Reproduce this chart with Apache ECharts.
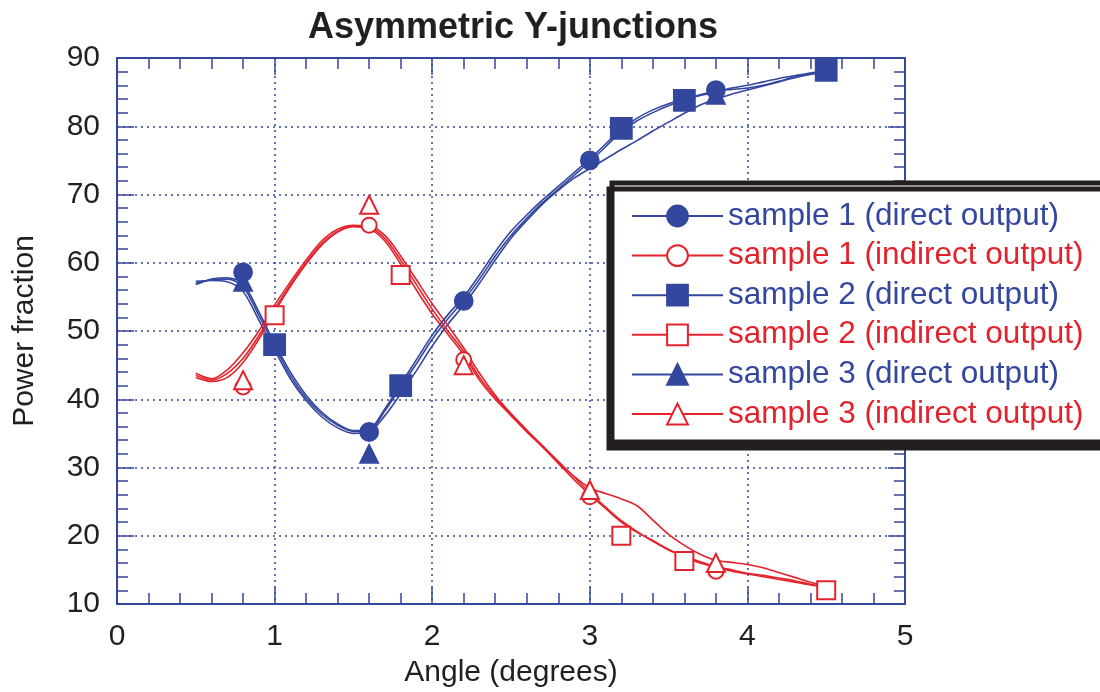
<!DOCTYPE html>
<html>
<head>
<meta charset="utf-8">
<script src="https://cdn.jsdelivr.net/npm/echarts@6/dist/echarts.min.js"></script>
<style>
  html, body { margin: 0; padding: 0; background: #fff; }
  #chart { width: 1100px; height: 692px; }
</style>
</head>
<body>
<div id="chart"></div>
<script>
// angles (degrees) for the measured curves
const angles = [0.5, 0.6, 0.7, 0.8, 0.9, 1.0, 1.1, 1.2, 1.3, 1.4,
                1.5, 1.6, 1.7, 1.8, 1.9, 2.0, 2.1, 2.2, 2.3, 2.4,
                2.5, 2.6, 2.7, 2.8, 2.9, 3.0, 3.1, 3.2, 3.3, 3.4,
                3.5, 3.6, 3.7, 3.8, 3.9, 4.0, 4.1, 4.2, 4.3, 4.4, 4.5];

// measured curves, direct output
const direct1 = [57.0, 57.5, 57.6, 56.5, 52.3, 47.8, 43.5, 40.2, 37.8, 36.2,
                 35.3, 35.4, 38.3, 41.8, 45.2, 48.8, 51.8, 54.5, 57.6, 61.0,
                 64.0, 66.5, 68.8, 70.8, 72.8, 74.8, 77.0, 79.2, 80.8, 82.0,
                 83.0, 83.8, 84.5, 85.0, 85.6, 86.0, 86.5, 87.0, 87.4, 87.8, 88.0];
const direct2 = [57.3, 57.4, 57.2, 55.8, 51.6, 47.2, 43.0, 39.8, 37.4, 35.8,
                 35.0, 35.2, 37.6, 40.8, 44.2, 47.8, 51.0, 53.8, 57.0, 60.4,
                 63.6, 66.2, 68.6, 70.6, 72.4, 73.8, 75.2, 76.6, 77.9, 79.3,
                 80.6, 81.9, 83.1, 84.0, 84.7, 85.3, 85.9, 86.5, 87.1, 87.6, 88.0];
const direct3 = [56.8, 57.6, 57.8, 56.9, 52.8, 48.2, 44.0, 40.6, 38.1, 36.4,
                 35.4, 35.6, 38.6, 42.2, 45.8, 49.4, 52.4, 55.0, 58.2, 61.6,
                 64.6, 67.0, 69.2, 71.2, 73.2, 75.2, 77.4, 79.6, 81.2, 82.4,
                 83.3, 84.0, 84.6, 85.2, 85.4, 85.6, 86.0, 86.6, 87.2, 87.7, 88.0];

// measured curves, indirect output
const indirect1 = [43.5, 42.8, 43.8, 46.0, 49.3, 53.2, 56.8, 60.0, 62.8, 64.6,
                   65.3, 65.0, 63.2, 59.8, 56.0, 52.5, 49.5, 46.5, 42.8, 40.0,
                   37.6, 35.2, 33.0, 30.6, 28.2, 26.0, 24.0, 22.0, 20.5, 19.3,
                   18.0, 17.0, 16.2, 15.5, 15.0, 14.5, 14.2, 13.8, 13.4, 12.9, 12.4];
const indirect2 = [43.2, 42.6, 43.2, 45.4, 48.8, 52.8, 56.5, 59.8, 62.6, 64.5,
                   65.4, 65.4, 64.0, 61.0, 57.5, 54.0, 50.8, 47.5, 43.8, 40.6,
                   37.9, 35.5, 33.2, 30.9, 28.6, 26.3, 24.2, 22.2, 20.6, 19.2,
                   17.9, 16.9, 16.0, 15.4, 14.8, 14.4, 14.0, 13.6, 13.2, 12.8, 12.5];
const indirect3 = [43.8, 43.0, 44.3, 46.8, 50.0, 53.8, 57.2, 60.4, 63.2, 64.9,
                   65.5, 65.2, 63.6, 60.4, 56.8, 53.2, 50.0, 47.0, 43.2, 40.3,
                   37.8, 35.4, 33.1, 30.8, 28.7, 27.0, 26.2, 25.4, 24.4, 22.3,
                   20.2, 18.6, 17.3, 16.4, 16.1, 15.8, 15.3, 14.6, 13.9, 13.2, 12.6];

// sparse markers: [angle, power fraction]
const marks1Direct = [[0.8, 58.6], [1.6, 35.2], [2.2, 54.4], [3.0, 75.0], [3.8, 85.3]];
const marks1Indirect = [[0.8, 41.8], [1.6, 65.5], [2.2, 45.8], [3.0, 25.7], [3.8, 14.8]];
const marks2Direct = [[1.0, 48.0], [1.8, 42.0], [3.2, 79.7], [3.6, 83.8], [4.5, 88.2]];
const marks2Indirect = [[1.0, 52.3], [1.8, 58.2], [3.2, 20.0], [3.6, 16.3], [4.5, 12.0]];
const marks3Direct = [[0.8, 57.2], [1.6, 32.0], [3.8, 84.6]];
const marks3Indirect = [[0.8, 42.8], [1.6, 68.5], [2.2, 45.0], [3.0, 26.7], [3.8, 16.0]];

const names = ['sample 1 (direct output)', 'sample 1 (indirect output)',
               'sample 2 (direct output)', 'sample 2 (indirect output)',
               'sample 3 (direct output)', 'sample 3 (indirect output)'];

const BLUE = '#34479e';
const RED = '#e3232c';
const INK = '#231f20';
const FONT = 'Liberation Sans, Arial, Helvetica, sans-serif';

function zip(ys) {
    return angles.map((a, i) => [a, ys[i]]);
}

const setup = [
    { curve: direct1, marks: marks1Direct, color: BLUE, symbol: 'circle', size: 18 },
    { curve: indirect1, marks: marks1Indirect, color: RED, symbol: 'emptyCircle', size: 15 },
    { curve: direct2, marks: marks2Direct, color: BLUE, symbol: 'rect', size: 21 },
    { curve: indirect2, marks: marks2Indirect, color: RED, symbol: 'emptyRect', size: 18 },
    { curve: direct3, marks: marks3Direct, color: BLUE, symbol: 'triangle', size: 18 },
    { curve: indirect3, marks: marks3Indirect, color: RED, symbol: 'emptyTriangle', size: 18 }
];

const series = [];
setup.forEach((s, i) => {
    series.push({
        name: names[i],
        type: 'line',
        data: zip(s.curve),
        smooth: 0.3,
        symbol: s.symbol,
        symbolSize: s.size,
        showSymbol: false,
        lineStyle: { color: s.color, width: 1.6 },
        itemStyle: { color: s.color, borderColor: s.color, borderWidth: 1.6 },
        z: 2
    });
    series.push({
        name: names[i],
        type: 'scatter',
        data: s.marks,
        symbol: s.symbol,
        symbolSize: s.size,
        itemStyle: { color: s.color, borderColor: s.color, borderWidth: 1.8, opacity: 1 },
        z: 3
    });
});

const tickFont = { fontFamily: FONT, fontSize: 30, color: INK };

function xAxisDef(pos, labels) {
    return {
        type: 'value', position: pos, min: 0, max: 5, interval: 1,
        axisLine: { show: true, onZero: false, lineStyle: { color: BLUE, width: 2 } },
        axisTick: { show: true, inside: true, length: 17, lineStyle: { color: BLUE, width: 1.5 } },
        minorTick: { show: true, splitNumber: 5, length: 11, lineStyle: { color: BLUE, width: 1.5 } },
        splitLine: { show: labels, lineStyle: { color: BLUE, type: [2, 4], width: 1.5 } },
        axisLabel: Object.assign({ show: labels, margin: 18 }, tickFont),
        name: labels ? 'Angle (degrees)' : '',
        nameLocation: 'middle', nameGap: 54,
        nameTextStyle: tickFont
    };
}

function yAxisDef(pos, labels) {
    return {
        type: 'value', position: pos, min: 10, max: 90, interval: 10,
        axisLine: { show: true, onZero: false, lineStyle: { color: BLUE, width: 2 } },
        axisTick: { show: true, inside: true, length: 17, lineStyle: { color: BLUE, width: 1.5 } },
        minorTick: { show: true, splitNumber: 5, length: 11, lineStyle: { color: BLUE, width: 1.5 } },
        splitLine: { show: labels, lineStyle: { color: BLUE, type: [2, 4], width: 1.5 } },
        axisLabel: Object.assign({ show: labels, margin: 17 }, tickFont),
        name: labels ? 'Power fraction' : '',
        nameLocation: 'middle', nameGap: 77,
        nameTextStyle: tickFont
    };
}

const chart = echarts.init(document.getElementById('chart'), null, { renderer: 'canvas' });
chart.setOption({
    backgroundColor: '#fff',
    animation: false,
    title: {
        text: 'Asymmetric Y-junctions',
        left: 508, top: 5, textAlign: 'center',
        textStyle: { fontFamily: FONT, fontWeight: 'bold', fontSize: 36, color: INK }
    },
    grid: { left: 117, right: 195, top: 58, bottom: 88, outerBoundsMode: 'none' },
    xAxis: [xAxisDef('bottom', true), xAxisDef('top', false)],
    yAxis: [yAxisDef('left', true), yAxisDef('right', false)],
    legend: {
        orient: 'vertical',
        left: 612, top: 183,
        itemWidth: 91, itemHeight: 26, itemGap: 7.6,
        padding: [17, 40, 12, 19],
        backgroundColor: '#fff',
        borderColor: INK, borderWidth: 5, borderRadius: 0,
        shadowColor: INK, shadowBlur: 0, shadowOffsetX: -3, shadowOffsetY: 6,
        selectedMode: false,
        textStyle: { fontFamily: FONT, fontSize: 31.5 },
        data: names.map((n, i) => ({ name: n, textStyle: { color: i % 2 === 0 ? BLUE : RED } }))
    },
    series: series
});
</script>
</body>
</html>
